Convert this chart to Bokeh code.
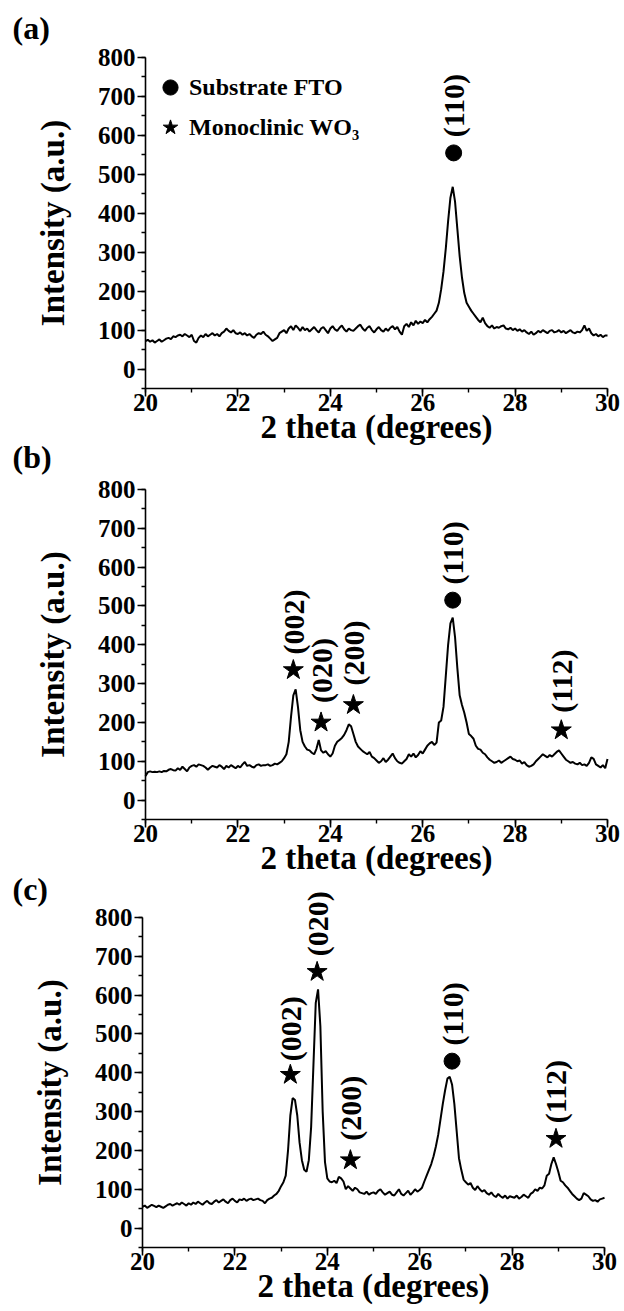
import math
from bokeh.plotting import figure
from bokeh.models import (Label, Legend, LegendItem, SingleIntervalTicker, Range1d,
                          LinearAxis)
from bokeh.embed import file_html
from bokeh.resources import INLINE

FONT = "Liberation Serif"
W, H = 624, 1311

# 2 theta sampling (degrees), 20.00 .. 30.00
two_theta = [round(20 + 0.05 * i, 2) for i in range(201)]

# Panel (a): bare FTO substrate
intensity_a = [
    72, 75, 70, 74, 68, 72, 76, 70, 74, 78, 80, 77, 84, 82, 86, 88, 84, 90, 86, 82, 88,
    72, 68, 80, 86, 82, 90, 84, 88, 92, 86, 90, 84, 92, 96, 104, 98, 94, 100, 92, 90,
    94, 88, 92, 86, 90, 84, 80, 88, 92, 90, 96, 88, 84, 78, 72, 76, 80, 92, 96, 100,
    92, 104, 110, 100, 112, 106, 98, 108, 100, 104, 96, 102, 108, 100, 94, 104, 108, 100, 92, 104,
    110, 102, 98, 106, 112, 102, 96, 104, 100, 98, 104, 110, 114, 104, 98, 106, 110, 100, 94, 102,
    108, 100, 96, 104, 98, 106, 110, 102, 108, 96, 88, 110, 116, 108, 120, 112, 124, 116, 122, 118,
    126, 120, 128, 134, 142, 150, 170, 205, 250, 310, 380, 440, 468, 430, 360, 290, 235, 195, 170, 160,
    150, 142, 134, 126, 120, 132, 118, 110, 106, 112, 104, 108, 106, 110, 112, 104, 102, 106, 100, 104,
    98, 102, 96, 100, 94, 90, 96, 88, 92, 98, 94, 100, 96, 92, 98, 100, 94, 96, 100, 94,
    98, 92, 96, 100, 94, 92, 96, 94, 100, 112, 98, 104, 92, 86, 90, 84, 88, 82, 86, 86,
]

# Panel (b)
intensity_b = [
    62, 72, 74, 72, 73, 72, 74, 72, 75, 74, 78, 80, 77, 76, 82, 78, 86, 80, 74, 84, 88,
    90, 86, 92, 90, 88, 84, 78, 84, 88, 86, 84, 90, 86, 80, 88, 84, 90, 86, 82, 88,
    84, 92, 98, 88, 90, 86, 84, 90, 92, 88, 90, 90, 92, 88, 90, 94, 92, 96, 100, 108,
    118, 150, 215, 270, 285, 240, 180, 150, 138, 130, 128, 122, 118, 132, 155, 128, 122, 126, 118, 112,
    120, 140, 150, 155, 160, 168, 180, 195, 190, 170, 150, 138, 132, 126, 122, 118, 124, 112, 108, 102,
    96, 100, 108, 98, 104, 112, 120, 108, 100, 96, 94, 100, 106, 118, 112, 120, 110, 116, 126, 120,
    130, 140, 146, 150, 142, 148, 200, 205, 240, 320, 400, 455, 470, 420, 340, 270, 245, 225, 200, 170,
    165, 158, 140, 132, 130, 122, 118, 110, 104, 100, 96, 98, 102, 96, 100, 104, 108, 112, 106, 104,
    100, 102, 94, 98, 90, 86, 88, 92, 100, 106, 112, 118, 114, 110, 116, 112, 118, 124, 128, 120,
    112, 104, 100, 96, 98, 94, 92, 96, 90, 92, 88, 96, 110, 106, 92, 88, 84, 90, 82, 106,
]

# Panel (c)
intensity_c = [
    55, 58, 52, 56, 60, 57, 54, 58, 55, 52, 56, 60, 62, 58, 61, 64, 60, 66, 62, 58, 64,
    60, 66, 62, 68, 64, 60, 66, 70, 64, 62, 68, 72, 66, 70, 74, 68, 64, 72, 76, 70,
    66, 74, 72, 76, 70, 74, 76, 72, 74, 76, 72, 70, 64, 72, 76, 78, 84, 88, 96, 108,
    118, 135, 200, 290, 335, 330, 290, 220, 175, 150, 145, 175, 260, 420, 580, 615, 520, 300, 170, 128,
    120, 118, 122, 116, 132, 128, 120, 100, 108, 102, 96, 104, 100, 92, 90, 88, 94, 86, 90, 92,
    88, 96, 100, 92, 86, 90, 94, 86, 84, 92, 100, 88, 84, 90, 96, 86, 92, 100, 94, 98,
    104, 120, 135, 150, 165, 185, 210, 240, 280, 320, 355, 385, 390, 370, 320, 250, 180, 150, 125, 118,
    112, 116, 104, 98, 108, 100, 94, 98, 90, 86, 92, 84, 80, 88, 82, 78, 84, 76, 82, 80,
    78, 84, 76, 80, 86, 82, 78, 88, 92, 100, 96, 104, 102, 110, 135, 140, 165, 182, 165, 145,
    122, 118, 110, 104, 96, 88, 82, 76, 72, 76, 90, 86, 82, 74, 70, 72, 68, 74, 76, 78,
]

for arr in (intensity_a, intensity_b, intensity_c):
    if len(arr) != len(two_theta):
        raise ValueError("length mismatch %d" % len(arr))

# Peak markers: WO3 (stars) and FTO (circles); label start heights
star_x_a, star_y_a, star_lbl_a, star_txt_a = [], [], [], []
circ_x_a, circ_y_a, circ_lbl_a, circ_txt_a = [26.67], [555], [595], ["(110)"]

star_x_b = [23.2, 23.8, 24.5, 29.0]
star_y_b = [335, 200, 245, 180]
star_lbl_b = [375, 250, 295, 225]
star_txt_b = ["(002)", "(020)", "(200)", "(112)"]
circ_x_b, circ_y_b, circ_lbl_b, circ_txt_b = [26.65], [515], [555], ["(110)"]

star_x_c = [23.2, 23.78, 24.5, 28.95]
star_y_c = [395, 660, 175, 230]
star_lbl_c = [430, 700, 225, 270]
star_txt_c = ["(002)", "(020)", "(200)", "(112)"]
circ_x_c, circ_y_c, circ_lbl_c, circ_txt_c = [26.7], [430], [470], ["(110)"]

panel_letters = ["(a)", "(b)", "(c)"]
legend_labels = ["Substrate FTO", "Monoclinic WO\u2083"]
x_label = "2 theta (degrees)"
y_label = "Intensity (a.u.)"

# Layout of the three stacked panels (page pixels from the top-left)
#   frame top, frame bottom, frame left, frame right, letter bottom
panel_boxes = [(57, 388, 145, 607, 45),
               (489, 819, 145, 607, 474),
               (917, 1247, 142, 604, 906)]

# one canvas; default ranges are page pixels (y measured upward)
p = figure(width=W, height=H, x_range=Range1d(0, W), y_range=Range1d(0, H),
           x_axis_location=None, y_axis_location=None, min_border=0,
           output_backend="svg", toolbar_location=None)
p.xgrid.visible = False
p.ygrid.visible = False
p.outline_line_color = None
p.background_fill_color = "white"
p.border_fill_color = "white"


def style_axis(ax):
    ax.axis_line_width = 1.6
    ax.axis_line_color = "black"
    ax.major_tick_line_width = 1.6
    ax.minor_tick_line_width = 1.4
    ax.major_tick_line_color = "black"
    ax.minor_tick_line_color = "black"
    ax.major_tick_out = 8
    ax.major_tick_in = 0
    ax.minor_tick_out = 4
    ax.minor_tick_in = 0
    ax.major_label_text_font = FONT
    ax.major_label_text_font_style = "bold"
    ax.major_label_text_font_size = "25px"
    ax.major_label_text_color = "black"
    ax.axis_label_text_font = FONT
    ax.axis_label_text_font_style = "bold"
    ax.axis_label_text_font_size = "33px"
    ax.axis_label_text_color = "black"


panel_data = [
    (intensity_a, star_x_a, star_y_a, star_lbl_a, star_txt_a, circ_x_a, circ_y_a, circ_lbl_a, circ_txt_a),
    (intensity_b, star_x_b, star_y_b, star_lbl_b, star_txt_b, circ_x_b, circ_y_b, circ_lbl_b, circ_txt_b),
    (intensity_c, star_x_c, star_y_c, star_lbl_c, star_txt_c, circ_x_c, circ_y_c, circ_lbl_c, circ_txt_c),
]

renderers_a = None
for i, (box, data, letter) in enumerate(zip(panel_boxes, panel_data, panel_letters)):
    T, B, L, R, LB = box
    y, sx, sy, sl, st, cx, cy, cl, ct = data
    xn, yn = "x%d" % i, "y%d" % i
    xs = 10.0 / (R - L)
    ys = 850.0 / (B - T)
    p.extra_x_ranges[xn] = Range1d(20 - L * xs, 30 + (W - R) * xs)
    p.extra_y_ranges[yn] = Range1d(-50 - (H - B) * ys, 800 + T * ys)

    xa = LinearAxis(x_range_name=xn, y_range_name=yn, fixed_location=-50, bounds=(20, 30),
                    ticker=SingleIntervalTicker(interval=2, num_minor_ticks=2),
                    axis_label=x_label)
    ya = LinearAxis(x_range_name=xn, y_range_name=yn, fixed_location=20, bounds=(-50, 800),
                    ticker=SingleIntervalTicker(interval=100, num_minor_ticks=2),
                    axis_label=y_label)
    style_axis(xa)
    style_axis(ya)
    xa.major_label_standoff = -3
    xa.axis_label_standoff = -5
    ya.major_label_standoff = 2
    ya.axis_label_standoff = 24
    p.add_layout(xa, "below")
    p.add_layout(ya, "left")

    p.line(two_theta, y, line_color="black", line_width=2, x_range_name=xn, y_range_name=yn)
    star_r = p.scatter(sx, sy, marker="star", size=21, color="black",
                       x_range_name=xn, y_range_name=yn)
    circ_r = p.scatter(cx, cy, marker="circle", size=16, color="black",
                       x_range_name=xn, y_range_name=yn)

    for xx, yy, tt in zip(list(sx) + list(cx), list(sl) + list(cl), list(st) + list(ct)):
        p.add_layout(Label(x=xx, y=yy, text=tt, angle=math.pi / 2,
                           x_range_name=xn, y_range_name=yn,
                           text_align="left", text_baseline="middle",
                           text_font=FONT, text_font_style="bold",
                           text_font_size="30px", text_color="black"))

    # panel letter, in page pixels
    p.add_layout(Label(x=12, y=H - LB, text=letter, text_align="left",
                       text_baseline="bottom", text_font=FONT, text_font_style="bold",
                       text_font_size="32px", text_color="black"))

    if i == 0:
        leg_star = p.scatter([math.nan], [math.nan], marker="star", size=21, color="black",
                             x_range_name=xn, y_range_name=yn)
        renderers_a = (circ_r, leg_star, T, L)

circ_r, leg_star, T0, L0 = renderers_a
lg = Legend(items=[LegendItem(label=legend_labels[0], renderers=[circ_r]),
                   LegendItem(label=legend_labels[1], renderers=[leg_star])],
            location=(L0 + 6, H - (T0 + 89)))
lg.border_line_color = None
lg.background_fill_alpha = 0
lg.label_text_font = FONT
lg.label_text_font_style = "bold"
lg.label_text_font_size = "24px"
lg.label_text_color = "black"
lg.glyph_width = 38
lg.glyph_height = 38
lg.label_standoff = 0
lg.spacing = 2
lg.padding = 6
lg.margin = 0
p.add_layout(lg)

open("out.html", "w").write(file_html(p, INLINE))
